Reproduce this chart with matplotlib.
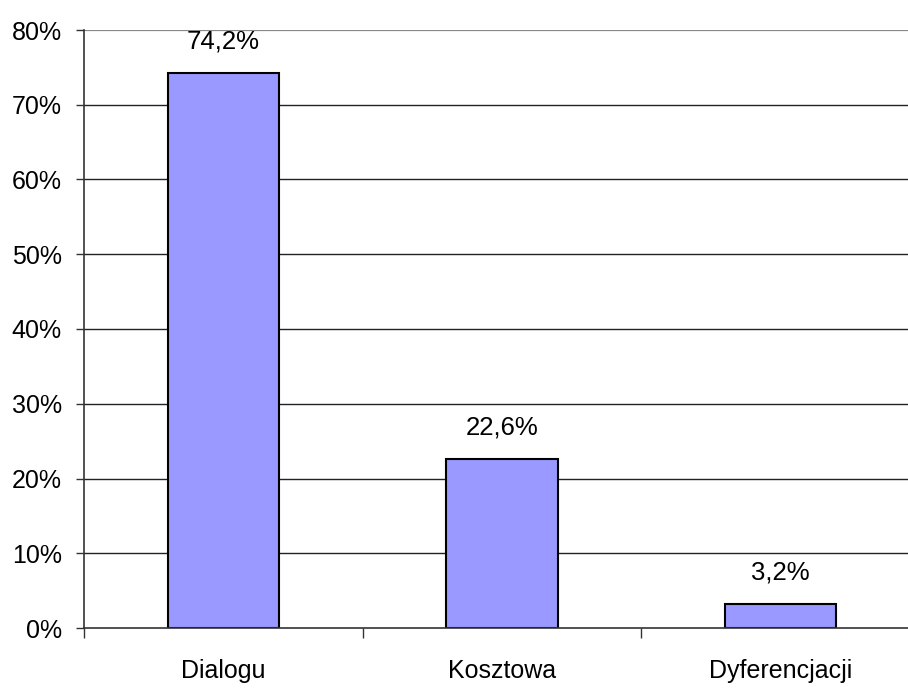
import matplotlib
matplotlib.use("Agg")
import matplotlib.pyplot as plt
from matplotlib.ticker import FuncFormatter

categories = ["Dialogu", "Kosztowa", "Dyferencjacji"]
values = [74.2, 22.6, 3.2]
yticks = [0, 10, 20, 30, 40, 50, 60, 70, 80]

plt.rcParams["font.family"] = ["Liberation Sans", "DejaVu Sans"]

fig = plt.figure(figsize=(9.08, 6.88), dpi=100)
W, H = 908, 688
left, right, top, bottom = 84, 920, 30, 628
ax = fig.add_axes([left / W, 1 - bottom / H, (right - left) / W, (bottom - top) / H])

x = list(range(len(categories)))
ax.bar(x, values, width=0.40, color="#9999FF", edgecolor="black", linewidth=1.5, zorder=3)

ax.set_xlim(-0.5, len(categories) - 0.5)
ax.set_ylim(0, 80)
ax.set_yticks(yticks)
ax.yaxis.set_major_formatter(FuncFormatter(lambda v, p: f"{v:.0f}%"))

for yv in yticks[1:]:
    color = "#888888" if yv == 80 else "#222222"
    ax.axhline(yv, color=color, linewidth=1.0 if yv != 80 else 1.6, zorder=1)

for xi, v in zip(x, values):
    ax.annotate(f"{v:.1f}%".replace(".", ","), (xi, v), xytext=(0, 14),
                textcoords="offset points", ha="center", va="bottom", fontsize=18.5)

ax.set_xticks([i + 0.5 for i in x[:-1]] + [-0.5])
ax.set_xticklabels([])
ax.set_xticks(x, minor=True)
ax.set_xticklabels(categories, minor=True, fontsize=18)
ax.tick_params(axis="x", which="major", length=7, width=1, color="#333333", direction="out")
ax.tick_params(axis="x", which="minor", length=0, pad=22)
ax.tick_params(axis="y", length=6, width=1, color="#333333", direction="out", pad=10, labelsize=18)

for s in ("top", "right"):
    ax.spines[s].set_visible(False)
for s in ("left", "bottom"):
    ax.spines[s].set_color("#333333")
    ax.spines[s].set_linewidth(1.2)
    ax.spines[s].set_zorder(4)

fig.savefig("out.png", dpi=100)
